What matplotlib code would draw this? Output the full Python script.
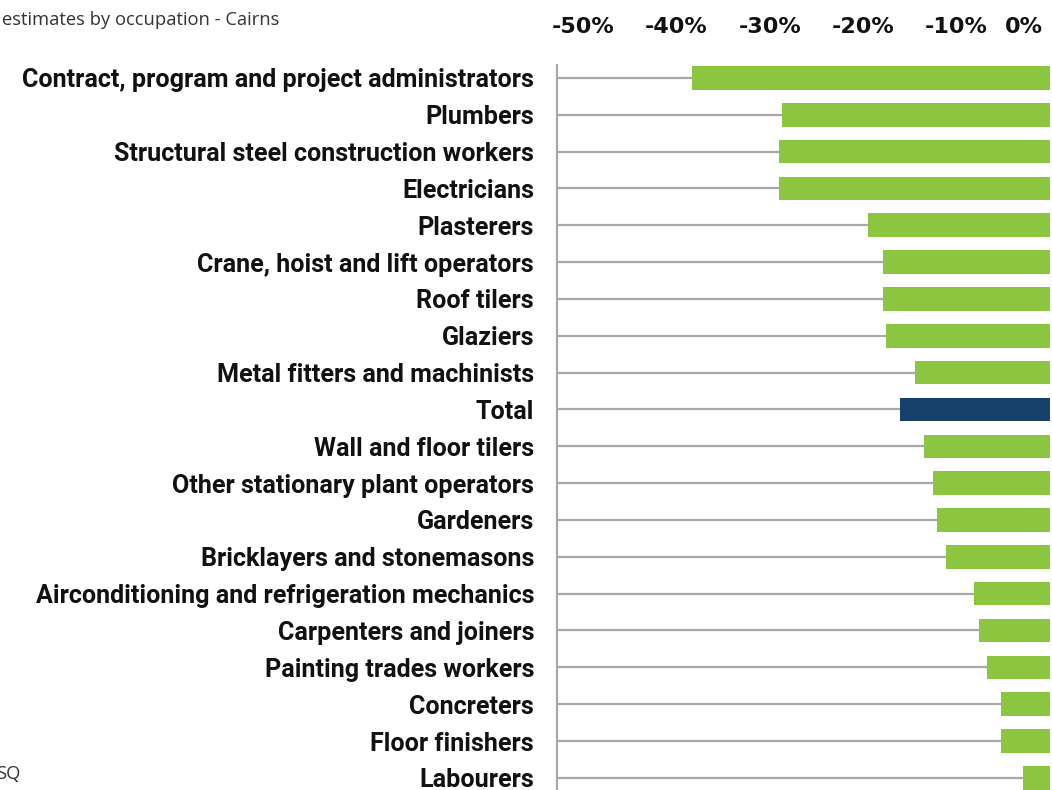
import matplotlib
matplotlib.use("Agg")
import matplotlib.pyplot as plt
from matplotlib import font_manager
from matplotlib.font_manager import FontProperties
import matplotlib.transforms as mtransforms

categories = [
    "Contract, program and project administrators",
    "Plumbers",
    "Structural steel construction workers",
    "Electricians",
    "Plasterers",
    "Crane, hoist and lift operators",
    "Roof tilers",
    "Glaziers",
    "Metal fitters and machinists",
    "Total",
    "Wall and floor tilers",
    "Other stationary plant operators",
    "Gardeners",
    "Bricklayers and stonemasons",
    "Airconditioning and refrigeration mechanics",
    "Carpenters and joiners",
    "Painting trades workers",
    "Concreters",
    "Floor finishers",
    "Labourers",
]
values = [-38.3, -28.7, -29.0, -29.0, -19.5, -17.9, -17.9, -17.6, -14.5, -16.1,
          -13.5, -12.5, -12.1, -11.1, -8.1, -7.6, -6.8, -5.3, -5.3, -2.9]
tick_values = [-50, -40, -30, -20, -10, 0]
tick_labels = ["-50%", "-40%", "-30%", "-20%", "-10%", "0%"]
title_text = "estimates by occupation - Cairns"
source_text = "SQ"

available = {f.name for f in font_manager.fontManager.ttflist}
label_family = "Roboto" if "Roboto" in available else "DejaVu Sans"
label_fp = FontProperties(family=[label_family, "DejaVu Sans"], weight="bold")
small_family = "Open Sans" if "Open Sans" in available else "DejaVu Sans"

GREEN = "#8cc640"
NAVY = "#15406a"
GRID = "#a9a7aa"

W, H = 1052, 790
fig = plt.figure(figsize=(W / 100, H / 100), dpi=100)

# fit label size so the longest label is ~511 px wide
renderer = fig.canvas.get_renderer()
longest = max(categories, key=len)
probe_fp = label_fp.copy()
probe_fp.set_size(20)
tmp = fig.text(0, 0, longest, fontproperties=probe_fp)
wpx = tmp.get_window_extent(renderer).width
tmp.remove()
label_size = min(20 * 511 / wpx, 19.5)
label_fp.set_size(label_size)

left_px, right_px = 557, 1050
top_px = 65
row_px = 36.84
ylim = (len(categories) - 0.5, -0.35)
height_px = (ylim[0] - ylim[1]) * row_px
ax = fig.add_axes([left_px / W, 1 - (top_px + height_px) / H,
                   (right_px - left_px) / W, height_px / H])

ys = list(range(len(categories)))
colors = [NAVY if c == "Total" else GREEN for c in categories]
ax.barh(ys, values, height=0.64, color=colors, zorder=3)

ax.set_xlim(-52.8, 0)
ax.set_ylim(*ylim)
ax.set_axisbelow(True)
ax.grid(axis="y", color=GRID, linewidth=1.6, zorder=1)
ax.grid(axis="x", visible=False)
ax.axvline(0, color="#c8c8c8", linewidth=0.8, zorder=4)

for s in ["top", "right", "bottom"]:
    ax.spines[s].set_visible(False)
ax.spines["left"].set_color(GRID)
ax.spines["left"].set_linewidth(1.6)

ax.set_yticks(ys)
ax.set_yticklabels(categories, color="#111111")
for t in ax.get_yticklabels():
    t.set_fontproperties(label_fp)
ax.tick_params(axis="y", length=0, pad=16.5)

ax.xaxis.tick_top()
ax.set_xticks(tick_values)
ax.set_xticklabels(tick_labels, fontsize=16, fontweight="bold",
                   family=["DejaVu Sans"], color="#111111")
ax.tick_params(axis="x", length=0, pad=20)
xt = ax.get_xticklabels()
xt[-1].set_horizontalalignment("right")
xt[-1].set_transform(xt[-1].get_transform() +
                     mtransforms.ScaledTranslation(-7 / 100, 0, fig.dpi_scale_trans))

fig.text(2 / W, 1 - 20 / H, title_text, fontsize=13.2, family=[small_family, "DejaVu Sans"],
         color="#333333", va="center", ha="left")
fig.text(-4 / W, 1 - 774 / H, source_text, fontsize=13.2, family=[small_family, "DejaVu Sans"],
         color="#333333", va="center", ha="left")

fig.savefig("out.png", dpi=100)
